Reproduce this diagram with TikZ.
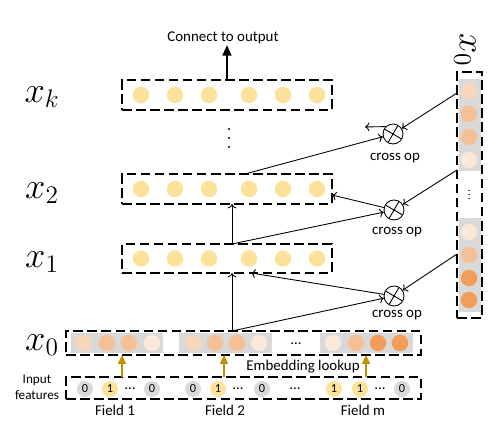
\documentclass[tikz,border=0pt]{standalone}
\usepackage{fontspec}
\setmainfont{Carlito}
\usepackage{tikz}
\usetikzlibrary{graphs}
\usetikzlibrary{arrows.meta}

\definecolor{unityel}{HTML}{FCE29B}
\definecolor{embA}{HTML}{F8D6BA}
\definecolor{embB}{HTML}{F5C096}
\definecolor{embC}{HTML}{F29E5A}
\definecolor{embD}{HTML}{FAE8DA}
\definecolor{panelgray}{HTML}{D9D9D9}
\definecolor{lookupgold}{HTML}{BF9000}

\begin{document}
\begin{tikzpicture}[
        layerbox/.style={draw, dash pattern=on 5.5pt off 2.5pt, line width=0.6pt, inner sep=0pt},
        panelbox/.style={fill=panelgray, inner sep=0pt},
        unit/.style={circle, fill=#1, inner sep=0pt, minimum size=0.33cm},
        bit/.style={circle, fill=#1, inner sep=0pt, minimum size=0.32cm, font=\fontsize{7}{8}\selectfont},
        dotpt/.style={circle, fill, inner sep=0pt, minimum size=#1},
        dotpt/.default=0.045cm,
        crossop/.style={circle, draw, fill=white, minimum size=0.4cm, inner sep=0pt, line width=0.5pt,
            path picture={\draw[line width=0.5pt] (path picture bounding box.center) ++(60:0.2) -- ++(240:0.4)
                (path picture bounding box.center) ++(150:0.2) -- ++(330:0.4);}},
        lbl/.style={font=\fontsize{8.5}{10}\selectfont},
        veclbl/.style={font=\fontsize{20}{24}\selectfont},
        link/.style={line width=0.5pt},
        lookup/.style={lookupgold, line width=1pt, -{Triangle[length=5pt,width=4.5pt]}},
        >={To[length=2.5pt,width=5pt]}
    ]
            \useasboundingbox (0,0) rectangle (10.02, 8.72);

            \node[layerbox, minimum width=4.2cm, minimum height=0.6cm] (xk) at (4.540, 6.820) {};
            \node[layerbox, minimum width=4.2cm, minimum height=0.6cm] (x2) at (4.540, 4.940) {};
            \node[layerbox, minimum width=4.2cm, minimum height=0.58cm] (x1) at (4.540, 3.550) {};
            \node[layerbox, minimum width=7.1cm, minimum height=0.48cm] (x0) at (4.870, 1.860) {};
            \node[layerbox, minimum width=7.1cm, minimum height=0.44cm] (in) at (4.870, 0.960) {};
            \node[layerbox, minimum width=0.5cm, minimum height=4.92cm] (col) at (9.390, 4.820) {};

            \node[veclbl] (lk) at (0.840, 6.780) {$x_k$};
            \node[veclbl] (l2) at (0.840, 4.860) {$x_2$};
            \node[veclbl] (l1) at (0.840, 3.480) {$x_1$};
            \node[veclbl] (l0) at (0.840, 1.820) {$x_0$};
            \node[veclbl, rotate=-90] (lc) at (9.300, 7.720) {$x_0$};

            \node[unit=unityel] (k_1) at (2.820, 6.820) {};
            \node[unit=unityel] (k_2) at (3.500, 6.820) {};
            \node[unit=unityel] (k_3) at (4.180, 6.820) {};
            \node[unit=unityel] (k_4) at (4.980, 6.820) {};
            \node[unit=unityel] (k_5) at (5.660, 6.820) {};
            \node[unit=unityel] (k_6) at (6.340, 6.820) {};
            \node[unit=unityel] (2_1) at (2.820, 4.940) {};
            \node[unit=unityel] (2_2) at (3.500, 4.940) {};
            \node[unit=unityel] (2_3) at (4.180, 4.940) {};
            \node[unit=unityel] (2_4) at (4.980, 4.940) {};
            \node[unit=unityel] (2_5) at (5.660, 4.940) {};
            \node[unit=unityel] (2_6) at (6.340, 4.940) {};
            \node[unit=unityel] (1_1) at (2.820, 3.550) {};
            \node[unit=unityel] (1_2) at (3.500, 3.550) {};
            \node[unit=unityel] (1_3) at (4.180, 3.550) {};
            \node[unit=unityel] (1_4) at (4.980, 3.550) {};
            \node[unit=unityel] (1_5) at (5.660, 3.550) {};
            \node[unit=unityel] (1_6) at (6.340, 3.550) {};
            \node[dotpt] (vd_1) at (4.580, 6.140) {};
            \node[dotpt] (vd_2) at (4.580, 5.960) {};
            \node[dotpt] (vd_3) at (4.580, 5.780) {};

            \node[panelbox, minimum width=1.84cm, minimum height=0.40cm] (p1) at (2.340, 1.860) {};
            \node[panelbox, minimum width=1.86cm, minimum height=0.40cm] (p2) at (4.510, 1.860) {};
            \node[panelbox, minimum width=1.86cm, minimum height=0.40cm] (pm) at (7.330, 1.860) {};
            \node[unit=embA] (e1_1) at (1.680, 1.860) {};
            \node[unit=embB] (e1_2) at (2.140, 1.860) {};
            \node[unit=embB] (e1_3) at (2.580, 1.860) {};
            \node[unit=embD] (e1_4) at (3.040, 1.860) {};
            \node[unit=embA] (e2_1) at (3.860, 1.860) {};
            \node[unit=embB] (e2_2) at (4.300, 1.860) {};
            \node[unit=embB] (e2_3) at (4.740, 1.860) {};
            \node[unit=embD] (e2_4) at (5.180, 1.860) {};
            \node[lbl] (edots) at (5.920, 1.840) {\dots};
            \node[unit=embD] (em_1) at (6.660, 1.860) {};
            \node[unit=embB] (em_2) at (7.120, 1.860) {};
            \node[unit=embC] (em_3) at (7.560, 1.860) {};
            \node[unit=embC] (em_4) at (8.000, 1.860) {};

            \node[panelbox, minimum width=0.44cm, minimum height=1.84cm] (c1) at (9.400, 6.220) {};
            \node[panelbox, minimum width=0.44cm, minimum height=1.88cm] (c2) at (9.400, 3.420) {};
            \node[unit=embA] (c1_1) at (9.380, 6.900) {};
            \node[unit=embB] (c1_2) at (9.380, 6.440) {};
            \node[unit=embB] (c1_3) at (9.380, 5.980) {};
            \node[unit=embD] (c1_4) at (9.380, 5.520) {};
            \node[dotpt=0.03cm] (cd_1) at (9.380, 4.910) {};
            \node[dotpt=0.03cm] (cd_2) at (9.380, 4.830) {};
            \node[dotpt=0.03cm] (cd_3) at (9.380, 4.750) {};
            \node[unit=embD] (c2_1) at (9.380, 4.080) {};
            \node[unit=embB] (c2_2) at (9.380, 3.620) {};
            \node[unit=embC] (c2_3) at (9.380, 3.160) {};
            \node[unit=embC] (c2_4) at (9.380, 2.720) {};

            \node[bit=panelgray] (b1_1) at (1.700, 0.940) {0};
            \node[bit=unityel] (b1_2) at (2.200, 0.940) {1};
            \node[lbl] (b1_d) at (2.600, 0.950) {\dots};
            \node[bit=panelgray] (b1_3) at (3.040, 0.940) {0};
            \node[bit=panelgray] (b2_1) at (3.860, 0.940) {0};
            \node[bit=unityel] (b2_2) at (4.360, 0.940) {1};
            \node[lbl] (b2_d) at (4.760, 0.950) {\dots};
            \node[bit=panelgray] (b2_3) at (5.240, 0.940) {0};
            \node[lbl] (bdots) at (5.900, 0.950) {\dots};
            \node[bit=unityel] (bm_1) at (6.680, 0.940) {1};
            \node[bit=unityel] (bm_2) at (7.200, 0.940) {1};
            \node[lbl] (bm_d) at (7.600, 0.950) {\dots};
            \node[bit=panelgray] (bm_3) at (8.040, 0.940) {0};

            \node[font=\fontsize{7.5}{9}\selectfont, align=center] (infeat) at (0.740, 0.980) {Input\\features};
            \node[lbl] (f1) at (2.300, 0.520) {Field 1};
            \node[lbl] (f2) at (4.500, 0.520) {Field 2};
            \node[lbl] (fm) at (7.260, 0.520) {Field m};
            \node[lbl] (emb) at (6.060, 1.380) {Embedding lookup};
            \node[lbl] (out) at (4.460, 7.960) {Connect to output};

            \node[crossop] (cross1) at (7.880, 2.800) {};
            \node[crossop] (cross2) at (7.880, 4.520) {};
            \node[crossop] (cross3) at (7.860, 6.040) {};
            \node[lbl] (op1) at (7.940, 2.420) {cross op};
            \node[lbl] (op2) at (7.940, 4.080) {cross op};
            \node[lbl] (op3) at (7.900, 5.560) {cross op};

            \coordinate (x0_top) at (4.640, 2.100);
            \coordinate (x1_bot) at (4.640, 3.260);
            \coordinate (x1_in) at (5.020, 3.260);
            \coordinate (x1_top) at (4.640, 3.840);
            \coordinate (x2_bot) at (4.640, 4.640);
            \coordinate (x2_in) at (6.640, 4.820);
            \coordinate (x2_top) at (4.900, 5.240);
            \coordinate (k_in) at (7.300, 6.181);
            \coordinate (k_top) at (4.540, 7.120);
            \coordinate (k_out) at (4.540, 7.820);
            \coordinate (col_1) at (9.140, 3.640);
            \coordinate (col_2) at (9.140, 5.320);
            \coordinate (col_3) at (9.140, 6.860);
            \coordinate (g1_s) at (2.440, 1.180);
            \coordinate (g1_e) at (2.440, 1.620);
            \coordinate (g2_s) at (4.480, 1.180);
            \coordinate (g2_e) at (4.480, 1.620);
            \coordinate (gm_s) at (7.320, 1.180);
            \coordinate (gm_e) at (7.320, 1.620);

            \graph {(x0_top) ->[link] (x1_bot)};
            \graph {(x0_top) ->[link] (cross1)};
            \graph {(col_1) ->[link] (cross1)};
            \graph {(cross1) ->[link] (x1_in)};
            \graph {(x1_top) ->[link] (x2_bot)};
            \graph {(x1_top) ->[link] (cross2)};
            \graph {(col_2) ->[link] (cross2)};
            \graph {(cross2) ->[link] (x2_in)};
            \graph {(x2_top) ->[link] (cross3)};
            \graph {(col_3) ->[link] (cross3)};
            \draw[link, ->] (cross3.135) -- (k_in);
            \draw[line width=1.2pt, -{Triangle[length=6pt,width=5pt]}] (k_top) -- (k_out);
            \draw[lookup] (g1_s) -- (g1_e);
            \draw[lookup] (g2_s) -- (g2_e);
            \draw[lookup] (gm_s) -- (gm_e);
        \end{tikzpicture}
\end{document}
